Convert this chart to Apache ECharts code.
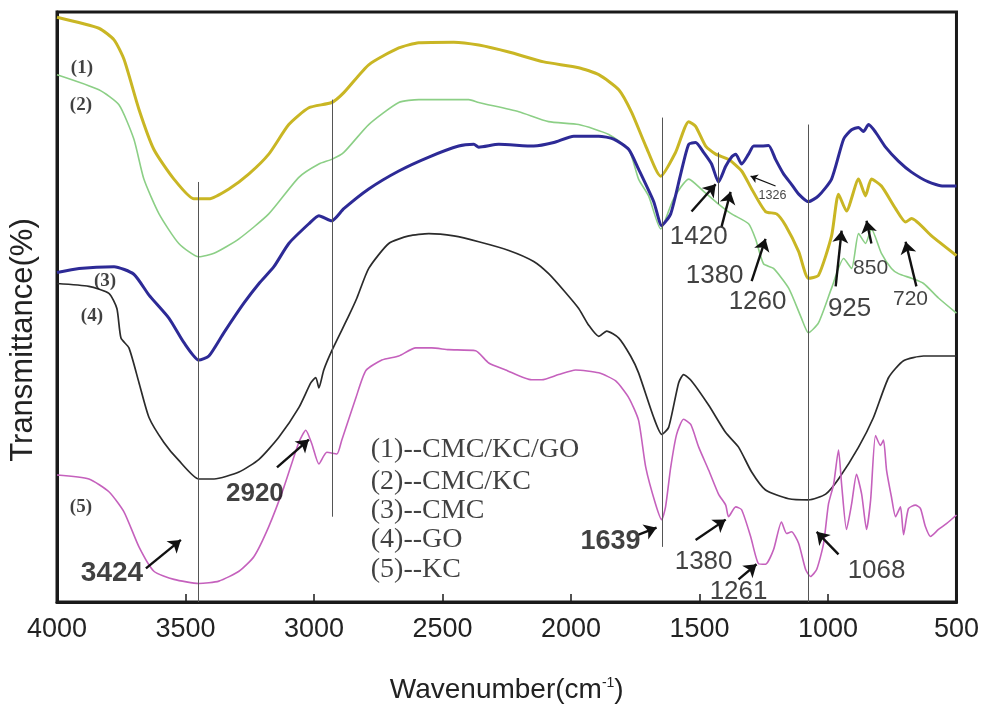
<!DOCTYPE html>
<html>
<head>
<meta charset="utf-8">
<script src="https://cdn.jsdelivr.net/npm/echarts@6/dist/echarts.min.js"></script>
<style>
  html, body { margin: 0; background: #fff; }
  #chart { width: 982px; height: 709px; }
</style>
</head>
<body>
<div id="chart"></div>
<script>
// FTIR spectra, points are [wavenumber (cm-1), transmittance (offset, a.u.)]
var cmcKcGo = [
  [4000, 99.3], [3837, 97.4], [3778, 95.4], [3739, 92.0], [3681, 83.4], [3623, 76.5],
  [3545, 71.4], [3467, 68.0], [3409, 68.0], [3331, 69.7], [3253, 72.3], [3176, 75.7],
  [3098, 80.8], [3020, 83.7], [2931, 84.6], [2884, 86.3], [2787, 91.1], [2670, 94.0],
  [2592, 94.9], [2456, 95.0], [2359, 94.5], [2242, 93.3], [2106, 91.6], [1970, 90.6],
  [1892, 89.4], [1814, 86.8], [1764, 82.9], [1709, 77.1], [1651, 71.9], [1593, 76.0],
  [1542, 81.3], [1515, 80.5], [1476, 77.1], [1437, 75.7], [1387, 74.8], [1336, 72.8],
  [1297, 69.7], [1243, 65.8], [1200, 65.4], [1165, 63.4], [1114, 58.9], [1076, 54.3],
  [1037, 54.8], [986, 61.6], [959, 68.8], [928, 65.9], [881, 71.4], [854, 68.5],
  [831, 71.4], [792, 70.2], [737, 66.3], [698, 64.0], [675, 64.6], [597, 61.6], [500, 58.2]
];
var cmcKc = [
  [4000, 89.4], [3837, 86.8], [3759, 84.2], [3701, 78.3], [3662, 71.4], [3603, 65.4],
  [3526, 60.3], [3448, 58.0], [3389, 58.6], [3292, 61.1], [3176, 65.4], [3059, 71.7],
  [2981, 74.0], [2931, 74.8], [2884, 76.0], [2787, 80.8], [2670, 84.6], [2592, 85.1],
  [2398, 85.1], [2359, 84.6], [2203, 83.0], [2087, 81.3], [1970, 80.8], [1853, 79.1],
  [1775, 76.5], [1737, 71.4], [1698, 68.5], [1651, 62.8], [1601, 68.0], [1542, 71.4],
  [1484, 69.3], [1426, 67.1], [1375, 65.4], [1309, 63.7], [1282, 61.1], [1251, 56.8],
  [1212, 56.0], [1153, 52.6], [1103, 47.4], [1076, 44.9], [1037, 46.6], [986, 52.6],
  [939, 57.7], [908, 56.0], [881, 62.0], [854, 60.3], [831, 62.8], [792, 58.6],
  [753, 56.0], [726, 55.1], [675, 54.3], [628, 53.4], [570, 50.9], [500, 48.3]
];
var cmc = [
  [4000, 55.3], [3914, 56.0], [3778, 56.3], [3701, 55.0], [3642, 51.4], [3564, 47.4],
  [3506, 43.2], [3448, 40.2], [3409, 40.9], [3351, 44.9], [3273, 50.0], [3214, 53.4],
  [3156, 56.3], [3098, 60.3], [3020, 63.7], [2981, 65.1], [2931, 64.2], [2884, 66.3],
  [2787, 69.7], [2670, 72.8], [2553, 75.2], [2437, 77.1], [2378, 77.4], [2359, 76.9],
  [2281, 77.4], [2145, 77.1], [2067, 77.7], [1989, 78.8], [1892, 78.8], [1834, 78.3],
  [1775, 76.5], [1737, 73.1], [1678, 67.5], [1647, 63.4], [1612, 65.4], [1573, 72.3],
  [1542, 77.4], [1515, 77.7], [1484, 76.0], [1453, 74.0], [1426, 70.9], [1398, 73.6],
  [1375, 75.2], [1359, 75.7], [1336, 74.0], [1309, 75.7], [1289, 77.1], [1258, 77.1],
  [1231, 77.2], [1204, 74.8], [1173, 72.3], [1142, 70.5], [1114, 68.8], [1076, 67.5],
  [1037, 68.5], [986, 71.4], [939, 78.3], [908, 79.9], [881, 80.3], [862, 79.6],
  [842, 80.8], [815, 79.5], [776, 76.9], [726, 74.5], [675, 72.6], [609, 70.9],
  [551, 70.2], [500, 70.2]
];
var go = [
  [4000, 53.4], [3876, 52.9], [3798, 51.7], [3767, 49.1], [3751, 44.0], [3720, 42.3],
  [3681, 36.3], [3642, 30.3], [3584, 26.0], [3526, 22.9], [3448, 19.7], [3389, 19.7],
  [3292, 20.9], [3214, 23.1], [3137, 26.9], [3059, 32.0], [3012, 36.3], [2993, 37.2],
  [2981, 35.4], [2962, 38.5], [2931, 41.8], [2864, 47.9], [2833, 50.9], [2787, 56.0],
  [2709, 60.3], [2631, 61.6], [2553, 62.0], [2456, 61.6], [2359, 60.6], [2242, 59.1],
  [2145, 57.2], [2087, 55.1], [2028, 52.2], [1970, 49.1], [1931, 46.2], [1892, 44.3],
  [1861, 45.2], [1814, 44.0], [1768, 40.9], [1737, 38.0], [1678, 30.3], [1647, 27.4],
  [1620, 28.6], [1581, 36.3], [1562, 37.7], [1531, 36.6], [1464, 32.4], [1398, 27.7],
  [1348, 25.2], [1297, 20.9], [1243, 17.8], [1153, 16.3], [1076, 16.1], [1009, 17.1],
  [959, 19.7], [881, 25.2], [823, 30.3], [764, 37.2], [706, 40.1], [628, 40.9], [500, 40.9]
];
var kc = [
  [4000, 20.4], [3876, 19.7], [3798, 17.5], [3739, 14.0], [3681, 8.0], [3623, 3.8],
  [3545, 2.4], [3448, 1.7], [3370, 2.1], [3292, 3.8], [3234, 6.3], [3176, 11.5],
  [3117, 18.3], [3059, 26.0], [3032, 28.1], [3008, 25.7], [2981, 22.3], [2950, 24.3],
  [2911, 24.0], [2892, 26.4], [2837, 33.7], [2798, 38.4], [2736, 40.2], [2670, 40.9],
  [2604, 42.3], [2542, 42.3], [2476, 42.0], [2371, 41.8], [2320, 39.7], [2254, 38.5],
  [2153, 36.8], [2114, 36.8], [2048, 37.7], [1982, 38.5], [1892, 38.0], [1826, 36.6],
  [1775, 33.7], [1737, 29.8], [1709, 21.7], [1671, 15.4], [1647, 12.7], [1632, 14.9],
  [1612, 21.7], [1589, 27.4], [1562, 30.0], [1534, 29.1], [1503, 25.2], [1464, 21.2],
  [1426, 17.1], [1398, 15.2], [1387, 13.2], [1359, 14.9], [1336, 14.4], [1301, 9.8],
  [1270, 5.1], [1243, 5.0], [1212, 7.5], [1181, 12.3], [1161, 10.3], [1142, 10.6],
  [1114, 8.6], [1087, 4.1], [1068, 2.9], [1044, 4.1], [1017, 8.6], [998, 15.4],
  [978, 18.8], [959, 24.7], [947, 18.8], [928, 11.0], [908, 15.4], [889, 20.5],
  [869, 17.1], [850, 11.0], [834, 16.1], [815, 27.2], [796, 25.5], [784, 26.4],
  [772, 21.2], [753, 16.6], [737, 13.2], [718, 14.9], [706, 10.1], [687, 14.6],
  [660, 15.2], [640, 14.6], [621, 11.5], [601, 9.8], [570, 11.0], [539, 12.0], [500, 13.5]
];

// vertical guide lines: [wavenumber, top, bottom]
var guideLines = [[3450, 70.9, -1.5], [2929, 85.1, 13.2], [1646, 82.0, 8.0], [1076, 80.8, -1.5], [1426, 76.0, 67.1]];

// curve numbers next to the spectra: [text, wavenumber, y]
var curveTags = [['(1)', 3903, 90.6], ['(2)', 3907, 84.1], ['(3)', 3813, 53.9], ['(4)', 3864, 47.8], ['(5)', 3907, 14.9]];

// sample key, one line each
var keyLines = ['(1)--CMC/KC/GO', '(2)--CMC/KC', '(3)--CMC', '(4)--GO', '(5)--KC'];
var keyY = [24.8, 19.2, 14.2, 9.2, 4.1];
var keyX = 2779;

// peak labels: [text, wavenumber, y]
var peakLabels = [
  ['3424', 3786, 3.4], ['2920', 3230, 17.1], ['1639', 1846, 8.9], ['1380', 1484, 5.5],
  ['1261', 1348, 0.3], ['1068', 811, 3.8], ['1420', 1503, 61.5], ['1380', 1441, 54.8],
  ['1260', 1274, 50.3], ['1326', 1216, 68.5], ['925', 916, 49.0], ['850', 834, 56.0], ['720', 679, 50.7]
];
var peakSizes = [28, 26, 27, 26, 26, 26, 26, 26, 26, 12.5, 26, 21, 21];
var boldPeaks = ['3424', '2920', '1639'];

// arrows: [from, to]
var arrows = [
  [[3654, 4.3], [3518, 9.2]], [[3144, 21.7], [3020, 26.5]], [[1737, 10.1], [1667, 11.3]],
  [[1515, 9.2], [1398, 12.7]], [[1348, 2.4], [1278, 5.0]], [[959, 6.7], [1044, 10.6]],
  [[1531, 65.8], [1437, 70.5]], [[1414, 63.2], [1379, 69.2]], [[1297, 53.8], [1243, 61.1]],
  [[1204, 70.2], [1301, 71.9]], [[970, 52.9], [947, 62.5]], [[831, 60.3], [850, 64.2]],
  [[656, 52.9], [698, 60.6]]
];

var chart = echarts.init(document.getElementById('chart'))

function spectrum(name, data, color, width) {
  return {
    name: name,
    type: 'line',
    data: data,
    showSymbol: false,
    smooth: 0.2,
    silent: true,
    lineStyle: { color: color, width: width },
    itemStyle: { color: color },
    z: 3
  }
}

var texts = []
curveTags.forEach(function (t) {
  texts.push({ value: [t[1], t[2]], label: { formatter: t[0], fontFamily: 'Liberation Serif', fontWeight: 'bold', fontSize: 19 } })
})
keyLines.forEach(function (t, i) {
  texts.push({ value: [keyX, keyY[i]], label: { formatter: t, align: 'left', fontFamily: 'Liberation Serif', fontSize: 28 } })
})
peakLabels.forEach(function (t, i) {
  texts.push({
    value: [t[1], t[2]],
    label: {
      formatter: t[0],
      fontFamily: 'Liberation Sans',
      fontSize: peakSizes[i],
      fontWeight: boldPeaks.indexOf(t[0]) >= 0 ? 'bold' : 'normal'
    }
  })
})

var arrowData = arrows.map(function (a, i) {
  var small = peakLabels[i][0] === '1326'
  return [
    { coord: a[0], symbol: 'none' },
    { coord: a[1], symbol: 'arrow', symbolSize: small ? 7 : 12, lineStyle: { width: small ? 1.2 : 2.4 } }
  ]
})

var guideData = guideLines.map(function (g) {
  return [{ coord: [g[0], g[1]] }, { coord: [g[0], g[2]] }]
})

chart.setOption({
  animation: false,
  backgroundColor: '#fff',
  grid: {
    left: 57,
    right: 24,
    top: 12,
    bottom: 103,
    show: true,
    borderColor: '#1a1a1a',
    borderWidth: 3,
    backgroundColor: 'transparent'
  },
  xAxis: {
    type: 'value',
    inverse: true,
    min: 500,
    max: 4000,
    interval: 500,
    name: '{a|Wavenumber(cm}{s|-1}{a|)}',
    nameLocation: 'middle',
    nameGap: 74,
    nameTextStyle: {
      rich: {
        a: { fontFamily: 'Liberation Sans', fontSize: 28, color: '#222' },
        s: { fontFamily: 'Liberation Sans', fontSize: 14, color: '#222', verticalAlign: 'top', padding: [0, 0, 14, 0] }
      }
    },
    axisLine: { onZero: false, lineStyle: { color: '#1a1a1a', width: 3 } },
    axisTick: { inside: true, length: 8, lineStyle: { color: '#1a1a1a', width: 1.5 } },
    axisLabel: {
      margin: 14,
      fontFamily: 'Liberation Sans',
      fontSize: 27,
      color: '#222',
      formatter: function (v) { return String(v) }
    },
    splitLine: { show: false }
  },
  yAxis: {
    type: 'value',
    min: -1.5,
    max: 100.2,
    name: 'Transmittance(%)',
    nameLocation: 'middle',
    nameRotate: 90,
    nameGap: 18,
    nameTextStyle: { fontFamily: 'Liberation Sans', fontSize: 31, color: '#222', padding: [0, 66, 0, 0] },
    axisLine: { show: true, onZero: false, lineStyle: { color: '#1a1a1a', width: 3 } },
    axisTick: { show: false },
    axisLabel: { show: false },
    splitLine: { show: false }
  },
  series: [
    spectrum('CMC/KC/GO', cmcKcGo, '#c9b624', 3),
    spectrum('CMC/KC', cmcKc, '#8ccf86', 1.6),
    spectrum('CMC', cmc, '#2d2a96', 3),
    spectrum('GO', go, '#2b2b2b', 1.7),
    spectrum('KC', kc, '#c561bd', 1.6),
    {
      type: 'line',
      data: [],
      silent: true,
      markLine: {
        silent: true,
        symbol: 'none',
        label: { show: false },
        lineStyle: { color: '#555', width: 1, type: 'solid' },
        data: guideData
      },
      z: 2
    },
    {
      type: 'line',
      data: [],
      silent: true,
      markLine: {
        silent: true,
        label: { show: false },
        lineStyle: { color: '#111', width: 2.4, type: 'solid' },
        data: arrowData
      },
      z: 4
    },
    {
      type: 'scatter',
      data: texts,
      symbolSize: 0,
      clip: false,
      silent: true,
      label: { show: true, position: 'inside', color: '#111' },
      z: 5
    }
  ]
})
</script>
</body>
</html>
